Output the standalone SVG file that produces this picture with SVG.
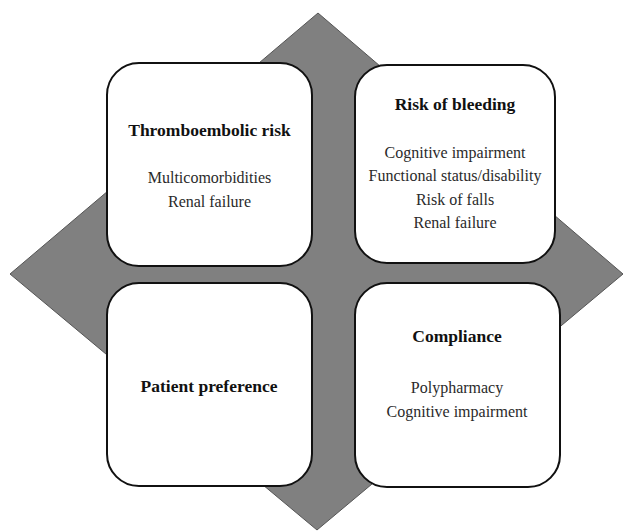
<svg xmlns="http://www.w3.org/2000/svg" width="625" height="531" viewBox="0 0 625 531">
<style>
.box{fill:#fff;stroke:#111;stroke-width:2}
.t{font-family:"Liberation Serif","Times New Roman",serif;text-anchor:middle;font-weight:bold;font-size:17.5px;fill:#111}
.s{font-family:"Liberation Serif","Times New Roman",serif;text-anchor:middle;font-size:16px;fill:#2a2a2a}
</style>
<rect width="625" height="531" fill="#fff"/>
<g id="diamond">
<polygon points="318,13 623,274 317,530 10,274" fill="#808080" stroke="#555" stroke-width="1"/>
</g>
<g id="connectors"></g>
<g id="thromboembolic">
<rect class="box" x="107" y="63" width="205" height="203" rx="32"/>
<text class="t" x="209.5" y="136">Thromboembolic risk</text>
<text class="s" x="209.5" y="183">Multicomorbidities</text>
<text class="s" x="209.5" y="207">Renal failure</text>
</g>
<g id="bleeding">
<rect class="box" x="355" y="65" width="200" height="198" rx="32"/>
<text class="t" x="455" y="110">Risk of bleeding</text>
<text class="s" x="455" y="158">Cognitive impairment</text>
<text class="s" x="455" y="181">Functional status/disability</text>
<text class="s" x="455" y="205">Risk of falls</text>
<text class="s" x="455" y="228">Renal failure</text>
</g>
<g id="preference">
<rect class="box" x="107" y="283" width="205" height="203" rx="32"/>
<text class="t" x="209" y="392">Patient preference</text>
</g>
<g id="compliance">
<rect class="box" x="355" y="283" width="205" height="204" rx="32"/>
<text class="t" x="457" y="342">Compliance</text>
<text class="s" x="457" y="393">Polypharmacy</text>
<text class="s" x="457" y="417">Cognitive impairment</text>
</g>
</svg>
